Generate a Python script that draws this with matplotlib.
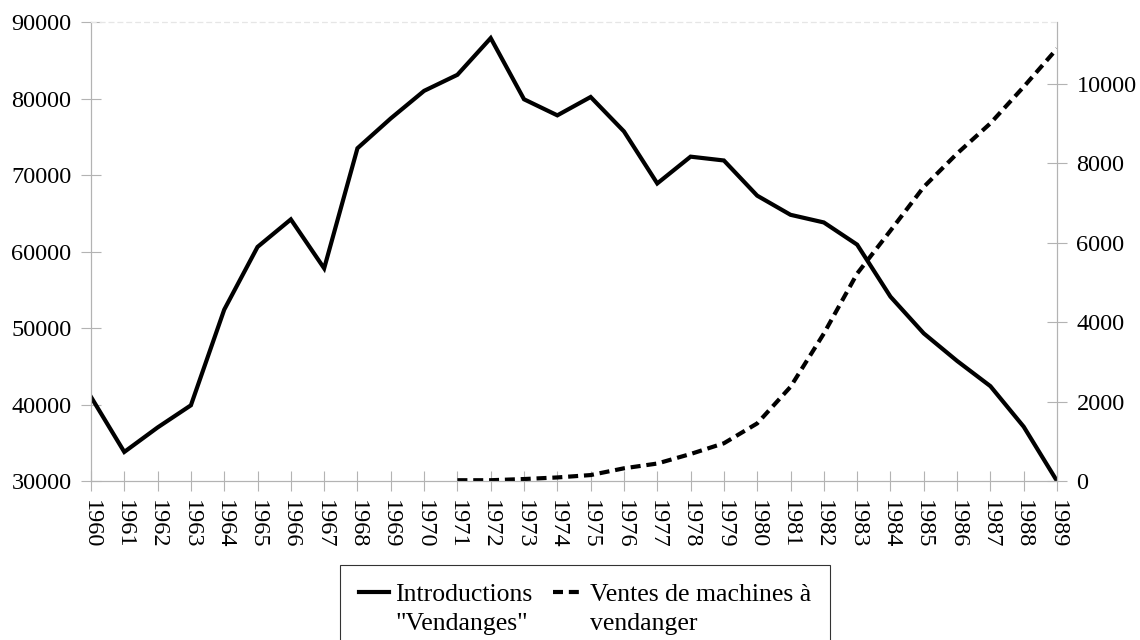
import numpy as np
import matplotlib
matplotlib.use('Agg')
import matplotlib.pyplot as plt
from matplotlib.legend_handler import HandlerLine2D

plt.rcParams['font.family'] = ['Liberation Serif', 'DejaVu Serif']

# data
years = list(range(1960, 1990))
introductions = [41000, 33800, 37000, 39900, 52400, 60600, 64200, 57800, 73500, 77400,
                 81000, 83100, 87900, 79900, 77800, 80200, 75700, 68900, 72400, 71900,
                 67300, 64800, 63800, 60900, 54100, 49300, 45700, 42400, 37100, 30000]
years_machines = list(range(1971, 1990))
machines = [20, 20, 50, 90, 150, 320, 440, 680, 950, 1450,
            2370, 3710, 5220, 6300, 7400, 8240, 9000, 9920, 10880]

grey = '#b3b3b3'


# legend handle next to the first line of a two-line label
class FirstLineHandler(HandlerLine2D):
    def create_artists(self, legend, orig_handle, xdescent, ydescent,
                       width, height, fontsize, trans):
        arts = super().create_artists(legend, orig_handle, xdescent, ydescent,
                                      width, height, fontsize, trans)
        for a in arts:
            a.set_ydata(np.asarray(a.get_ydata()) + 0.68 * fontsize)
        return arts


fig = plt.figure(figsize=(11.4, 6.4), dpi=100)
ax = fig.add_axes([0.0798, 0.2484, 0.8474, 0.7172])
ax2 = ax.twinx()

l1, = ax.plot(years, introductions, color='black', lw=3, solid_joinstyle='miter')
l2, = ax2.plot(years_machines, machines, color='black', lw=3, linestyle=(0, (2.4, 1.4)),
               dash_capstyle='butt')

ax.set_xlim(1960, 1989)
ax.set_ylim(30000, 90000)
ax.set_yticks(range(30000, 90001, 10000))
ax2.set_ylim(0, 11550)
ax2.set_yticks(range(0, 10001, 2000))
ax.set_xticks(years)
ax.set_xticklabels([str(y) for y in years], rotation=270)

for a in (ax, ax2):
    for s in a.spines.values():
        s.set_color(grey)
    a.spines['top'].set_linestyle((0, (4, 4)))
    a.spines['top'].set_color('#e6e6e6')
    a.tick_params(direction='inout', length=15, color=grey, labelsize=17.5, pad=6.5)

legend = fig.legend([l1, l2], ['Introductions\n"Vendanges"', 'Ventes de machines à\nvendanger'],
                    loc='upper center', bbox_to_anchor=(0.513, 0.117), ncol=2,
                    fontsize=18.5, frameon=True, fancybox=False, handlelength=1.17,
                    handletextpad=0.25, columnspacing=0.8, borderpad=0.75,
                    borderaxespad=0,
                    handler_map={l1: FirstLineHandler(), l2: FirstLineHandler()})
legend.get_frame().set_edgecolor('black')
legend.get_frame().set_linewidth(0.8)
for t in legend.get_texts():
    t.set_linespacing(1.4)

fig.savefig('out.png', dpi=100)
